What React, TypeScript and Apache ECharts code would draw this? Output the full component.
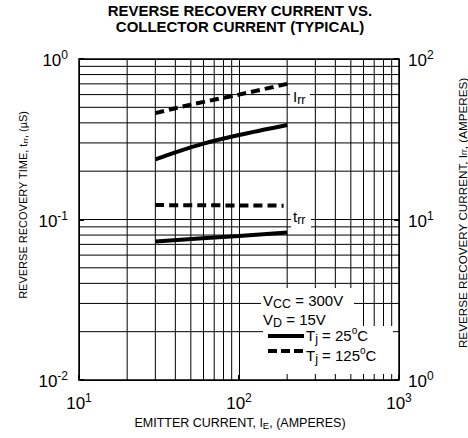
import React, { useEffect, useRef } from "react";
import * as echarts from "echarts";

// ---- data ----
const X_MIN = 10;
const X_MAX = 1000;
const T_MIN = 0.01; // left axis (µS)
const T_MAX = 1;
const I_MIN = 1; // right axis (A)
const I_MAX = 100;

const X_MINOR = [20, 30, 40, 50, 60, 70, 80, 90, 200, 300, 400, 500, 600, 700, 800, 900];
const T_MINOR = [0.02, 0.03, 0.04, 0.05, 0.06, 0.07, 0.08, 0.09, 0.2, 0.3, 0.4, 0.5, 0.6, 0.7, 0.8, 0.9];

// I_rr (right axis, amperes)
const IRR_25_X = [30, 40, 60, 100, 200];
const IRR_25_Y = [23.7, 26.2, 29.7, 33.6, 38.8];
const IRR_125_X = [30, 50, 100, 200];
const IRR_125_Y = [46, 52, 60, 70];

// t_rr (left axis, µS)
const TRR_25_X = [30, 100, 200];
const TRR_25_Y = [0.073, 0.079, 0.083];
const TRR_125_X = [30, 190];
const TRR_125_Y = [0.123, 0.122];

const FONT = "Liberation Sans, Arial, sans-serif";

const pairs = (xs: number[], ys: number[]) => xs.map((x, i) => [x, ys[i]]);

const expLabel = (v: number) => `{b|10}{s|${Math.round(Math.log10(v))}}`;
const expRich = {
  b: { fontSize: 17, fontFamily: FONT, color: "#000", lineHeight: 20, verticalAlign: "bottom" },
  s: { fontSize: 12, fontFamily: FONT, color: "#000", lineHeight: 20, verticalAlign: "top" },
};

export default function App() {
  const ref = useRef<HTMLDivElement>(null);
  useEffect(() => {
    document.body.style.margin = "0";
    const chart = echarts.init(ref.current!, null, { renderer: "svg" });

    const gridData = [
      ...X_MINOR.map((v) => [v, 0.1, 0]),
      ...T_MINOR.map((v) => [100, v, 1]),
    ];

    const lineSeries = (name: string, data: number[][], yAxisIndex: number, dashed: boolean) => ({
      name,
      type: "line",
      xAxisIndex: 0,
      yAxisIndex,
      data,
      symbol: "none",
      smooth: 0.3,
      z: 5,
      lineStyle: { color: "#000", width: 4, type: dashed ? [9, 5] : "solid", cap: "butt" },
    });

    const sub = { fontSize: 8, fontFamily: FONT, color: "#000", verticalAlign: "bottom", lineHeight: 10, padding: [4, 0, 0, 0] };
    const big = { fontSize: 15, fontFamily: FONT, color: "#000", lineHeight: 20, verticalAlign: "middle" };
    const bigSub = { fontSize: 12.5, fontFamily: FONT, color: "#000", verticalAlign: "bottom", lineHeight: 12 };
    const deg = { fontSize: 10, fontFamily: FONT, color: "#000", lineHeight: 12, verticalAlign: "top" };

    chart.setOption({
      animation: false,
      grid: { left: 79, right: 69, top: 59, bottom: 58, show: true, borderColor: "#000", borderWidth: 1.5 },
      xAxis: {
        type: "log",
        logBase: 10,
        min: X_MIN,
        max: X_MAX,
        axisLine: { show: false },
        axisTick: { show: true, inside: true, length: 5, lineStyle: { color: "#000", width: 2 } },
        splitLine: { show: true, lineStyle: { color: "#000", width: 1 } },
        axisLabel: { formatter: expLabel, rich: expRich, margin: 12 },
      },
      yAxis: [
        {
          type: "log",
          logBase: 10,
          min: T_MIN,
          max: T_MAX,
          position: "left",
          axisLine: { show: false },
          axisTick: { show: true, inside: true, length: 5, lineStyle: { color: "#000", width: 2 } },
          splitLine: { show: true, lineStyle: { color: "#000", width: 1 } },
          axisLabel: { formatter: expLabel, rich: expRich, margin: 11 },
        },
        {
          type: "log",
          logBase: 10,
          min: I_MIN,
          max: I_MAX,
          position: "right",
          axisLine: { show: false },
          axisTick: { show: true, inside: true, length: 5, lineStyle: { color: "#000", width: 2 } },
          splitLine: { show: false },
          axisLabel: { formatter: expLabel, rich: expRich, margin: 9 },
        },
      ],
      series: [
        {
          type: "custom",
          xAxisIndex: 0,
          yAxisIndex: 0,
          z: 1,
          silent: true,
          encode: { x: 0, y: 1 },
          data: gridData,
          renderItem: (params: any, api: any) => {
            const kind = api.value(2);
            const v = kind === 0 ? api.value(0) : api.value(1);
            const p1 = kind === 0 ? api.coord([v, T_MIN]) : api.coord([X_MIN, v]);
            const p2 = kind === 0 ? api.coord([v, T_MAX]) : api.coord([X_MAX, v]);
            return {
              type: "line",
              shape: { x1: p1[0], y1: p1[1], x2: p2[0], y2: p2[1] },
              style: { stroke: "#000", lineWidth: 1 },
            };
          },
        },
        lineSeries("Irr25", pairs(IRR_25_X, IRR_25_Y), 1, false),
        lineSeries("Irr125", pairs(IRR_125_X, IRR_125_Y), 1, true),
        lineSeries("trr25", pairs(TRR_25_X, TRR_25_Y), 0, false),
        lineSeries("trr125", pairs(TRR_125_X, TRR_125_Y), 0, true),
      ],
      graphic: [
        // title
        {
          type: "text", x: 240, y: 11.5, scaleX: 1.07, z: 20,
          style: { text: "REVERSE RECOVERY CURRENT VS.", font: `bold 14px ${FONT}`, fill: "#000", align: "center", verticalAlign: "middle" },
        },
        {
          type: "text", x: 240, y: 27, scaleX: 1.07, z: 20,
          style: { text: "COLLECTOR CURRENT (TYPICAL)", font: `bold 14px ${FONT}`, fill: "#000", align: "center", verticalAlign: "middle" },
        },
        // x axis name
        {
          type: "text", x: 240, y: 423, z: 20,
          style: {
            text: "{a|EMITTER CURRENT, I}{s|E}{a|, (AMPERES)}",
            align: "center", verticalAlign: "middle",
            rich: { a: { fontSize: 12.5, fontFamily: FONT, color: "#000", lineHeight: 14 }, s: { ...sub, fontSize: 9.5 } },
          },
        },
        // left axis name
        {
          type: "text", x: 23, y: 205, rotation: Math.PI / 2, z: 20,
          style: {
            text: "{a|REVERSE RECOVERY TIME, t}{s|rr}{a|, (µS)}",
            align: "center", verticalAlign: "middle",
            rich: { a: { fontSize: 11, fontFamily: FONT, color: "#000", lineHeight: 13 }, s: sub },
          },
        },
        // right axis name
        {
          type: "text", x: 462, y: 213, rotation: Math.PI / 2, z: 20,
          style: {
            text: "{a|REVERSE RECOVERY CURRENT, I}{s|rr}{a|, (AMPERES)}",
            align: "center", verticalAlign: "middle",
            rich: { a: { fontSize: 11.7, fontFamily: FONT, color: "#000", lineHeight: 13 }, s: { ...sub, fontSize: 8.5 } },
          },
        },
        // masks behind in-plot labels and legend
        { type: "rect", z: 8, shape: { x: 290, y: 89, width: 20, height: 17 }, style: { fill: "#fff" } },
        { type: "rect", z: 8, shape: { x: 291, y: 212, width: 20, height: 16 }, style: { fill: "#fff" } },
        { type: "rect", z: 8, shape: { x: 261, y: 288, width: 93, height: 42 }, style: { fill: "#fff" } },
        { type: "rect", z: 8, shape: { x: 263, y: 326, width: 130, height: 48 }, style: { fill: "#fff" } },
        // curve labels
        {
          type: "text", x: 293, y: 96, z: 20,
          style: { text: "{a|I}{s|rr}", verticalAlign: "middle", rich: { a: big, s: bigSub } },
        },
        {
          type: "text", x: 293, y: 216, z: 20,
          style: { text: "{a|t}{s|rr}", verticalAlign: "middle", rich: { a: big, s: bigSub } },
        },
        // legend
        {
          type: "text", x: 263, y: 300, z: 20,
          style: { text: "{a|V}{s|CC}{a| = 300V}", verticalAlign: "middle", rich: { a: big, s: bigSub } },
        },
        {
          type: "text", x: 263, y: 319.5, z: 20,
          style: { text: "{a|V}{s|D}{a| = 15V}", verticalAlign: "middle", rich: { a: big, s: bigSub } },
        },
        { type: "line", z: 20, shape: { x1: 268, y1: 336, x2: 304, y2: 336 }, style: { stroke: "#000", lineWidth: 4 } },
        { type: "line", z: 20, shape: { x1: 268, y1: 351, x2: 304, y2: 351 }, style: { stroke: "#000", lineWidth: 4, lineDash: [9, 4] } },
        {
          type: "text", x: 306, y: 335, z: 20,
          style: { text: "{a|T}{s|j}{a| = 25}{o|o}{a|C}", verticalAlign: "middle", rich: { a: big, s: bigSub, o: deg } },
        },
        {
          type: "text", x: 306, y: 355, z: 20,
          style: { text: "{a|T}{s|j}{a| = 125}{o|o}{a|C}", verticalAlign: "middle", rich: { a: big, s: bigSub, o: deg } },
        },
      ],
    });
    return () => chart.dispose();
  }, []);
  return <div ref={ref} style={{ width: 468, height: 438 }} />;
}
